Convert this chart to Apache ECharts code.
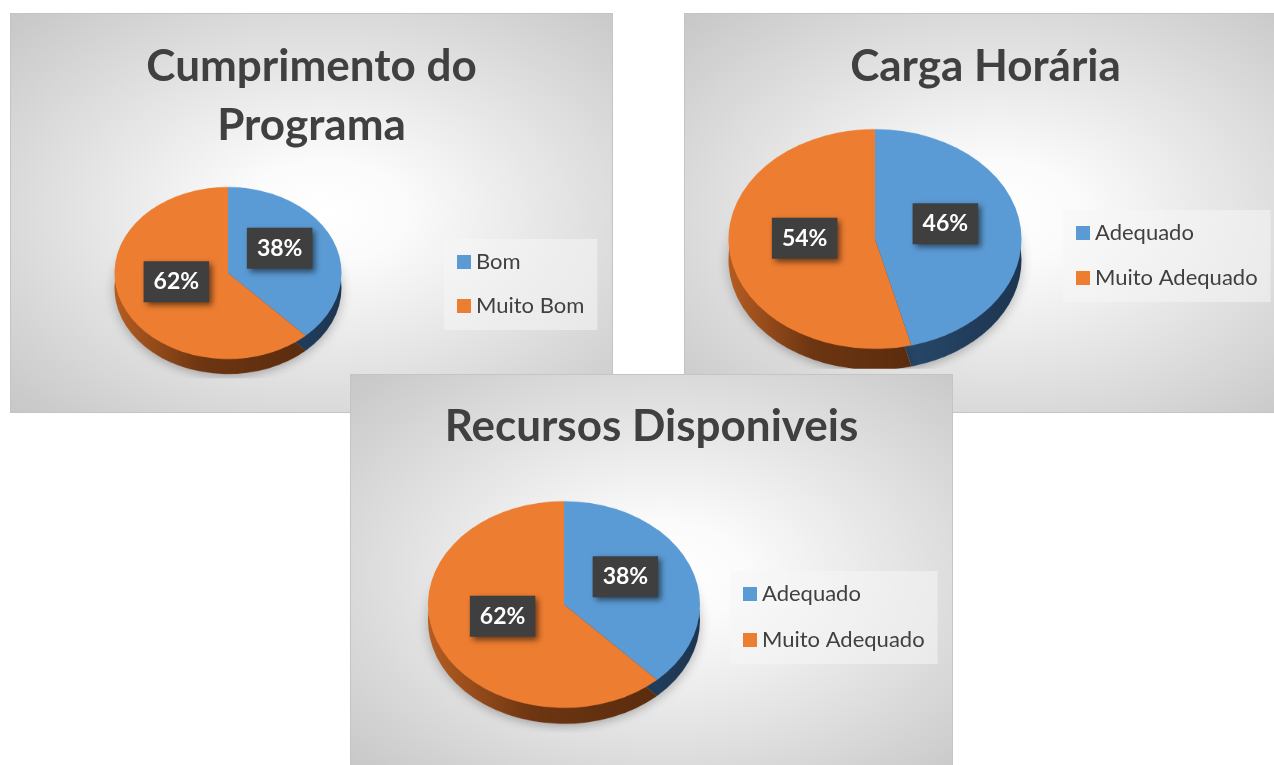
<!DOCTYPE html>
<html><head><meta charset="utf-8">
<script src="https://cdn.jsdelivr.net/npm/echarts@6/dist/echarts.min.js"></script>
<style>
html,body{margin:0;padding:0;background:#fff;width:1274px;height:765px;overflow:hidden;position:relative}
.panel{position:absolute;box-sizing:border-box;border:1px solid #c4c4c4;
  background:radial-gradient(ellipse farthest-corner at 52% 50%, #ffffff 0%, #fbfbfb 18%, #c7c7c7 100%);overflow:hidden}
.layer{position:absolute;left:0;top:0}
</style></head><body>
<div id="p1" class="panel" style="left:10px;top:13px;width:603px;height:400px"></div>
<div id="p2" class="panel" style="left:684px;top:13px;width:603px;height:400px"></div>
<div id="p3" class="panel" style="left:350px;top:374px;width:603px;height:400px"></div>
<script>
// ---- data ----
const chart1Title = 'Cumprimento do\nPrograma';
const chart1Categories = ['Bom', 'Muito Bom'];
const chart1Values = [38, 62];

const chart2Title = 'Carga Horária';
const chart2Categories = ['Adequado', 'Muito Adequado'];
const chart2Values = [46, 54];

const chart3Title = 'Recursos Disponiveis';
const chart3Categories = ['Adequado', 'Muito Adequado'];
const chart3Values = [38, 62];

// ---- styles ----
const topColors = ['#5B9BD5', '#ED7D31'];
const sideColors = [
  {type:'linear',x:0,y:0,x2:1,y2:0,colorStops:[{offset:0,color:'#2a4d70'},{offset:1,color:'#1d3550'}]},
  {type:'linear',x:0,y:0,x2:1,y2:0,colorStops:[{offset:0,color:'#b55d22'},{offset:0.45,color:'#6e3612'},{offset:1,color:'#5a2c0e'}]}
];
const FONT = 'Lato';

function build(panelId, title, cats, vals, L) {
  const panel = document.getElementById(panelId);
  const w = panel.clientWidth, h = panel.clientHeight;
  const a = document.createElement('div');
  a.className = 'layer';
  a.style.width = w + 'px'; a.style.height = h + 'px';
  a.style.transformOrigin = L.cx + 'px ' + L.cy + 'px';
  a.style.transform = 'scaleY(' + L.k + ')';
  panel.appendChild(a);
  const b = document.createElement('div');
  b.className = 'layer';
  b.style.width = w + 'px'; b.style.height = h + 'px';
  panel.appendChild(b);

  const ca = echarts.init(a, null, {renderer:'canvas'});
  ca.setOption({
    animation: false,
    series: [
      {type:'pie', silent:true, startAngle:90, clockwise:true, z:1,
       center:[L.cx, L.cy + L.d / L.k], radius:L.r,
       label:{show:false}, labelLine:{show:false},
       itemStyle:{borderWidth:0, shadowBlur:12, shadowColor:'rgba(0,0,0,0.25)', shadowOffsetY:4},
       data: cats.map((c,i)=>({name:c, value:vals[i], itemStyle:{color:sideColors[i]}}))},
      {type:'pie', silent:true, startAngle:90, clockwise:true, z:2,
       center:[L.cx, L.cy], radius:L.r,
       label:{show:false}, labelLine:{show:false},
       itemStyle:{borderWidth:0},
       data: cats.map((c,i)=>({name:c, value:vals[i], itemStyle:{color:topColors[i]}}))}
    ]
  });

  const cb = echarts.init(b, null, {renderer:'canvas'});
  cb.setOption({
    animation: false,
    title: {text:title, left:'center', top:L.titleTop,
      textStyle:{fontFamily:FONT, fontSize:44, fontWeight:'bold', color:'#404040', lineHeight:59}},
    legend: {orient:'vertical', left:L.lgLeft, top:L.lgTop, icon:'rect', itemWidth:14, itemHeight:14,
      itemGap:L.lgGap, selectedMode:false,
      padding:[11,13,12,13], backgroundColor:'rgba(246,246,246,0.55)',
      textStyle:{fontFamily:FONT, fontSize:22, color:'#404040', lineHeight:24},
      itemStyle:{borderWidth:0},
      data: cats.map((c,i)=>({name:c, itemStyle:{color:topColors[i], borderWidth:0}}))},
    series: [{
      type:'pie', silent:true, startAngle:90, clockwise:true,
      center:[L.cx, L.cy], radius:L.r, percentPrecision:0,
      itemStyle:{color:'rgba(0,0,0,0)', borderWidth:0},
      labelLine:{show:false},
      label:{show:true, position:'inside', formatter:'{d}%',
        fontFamily:FONT, fontSize:23, fontWeight:'bold', color:'#ffffff', lineHeight:25,
        backgroundColor:'#3f3f3f', padding:[8,10,8,10],
        shadowBlur:6, shadowColor:'rgba(0,0,0,0.55)', shadowOffsetX:3, shadowOffsetY:3},
      labelLayout: function(p) {
        const r = p.labelRect;
        const mx = r.x + r.width / 2, my = r.y + r.height / 2;
        return {x: L.cx + (mx - L.cx) * 0.93, y: L.cy + (my - L.cy) * L.k - 8,
                align:'center', verticalAlign:'middle'};
      },
      data: cats.map((c,i)=>({name:c, value:vals[i]}))
    }]
  });
}

build('p1', chart1Title, chart1Categories, chart1Values,
  {cx:217, cy:259, r:113.5, k:0.758, d:15, titleTop:18, lgLeft:433, lgTop:225, lgGap:20});
build('p2', chart2Title, chart2Categories, chart2Values,
  {cx:190, cy:225, r:146.5, k:0.75, d:21, titleTop:18, lgLeft:378, lgTop:196, lgGap:21});
build('p3', chart3Title, chart3Categories, chart3Values,
  {cx:213, cy:229.5, r:136, k:0.76, d:16, titleTop:17, lgLeft:379, lgTop:196, lgGap:22});
</script>
</body></html>
